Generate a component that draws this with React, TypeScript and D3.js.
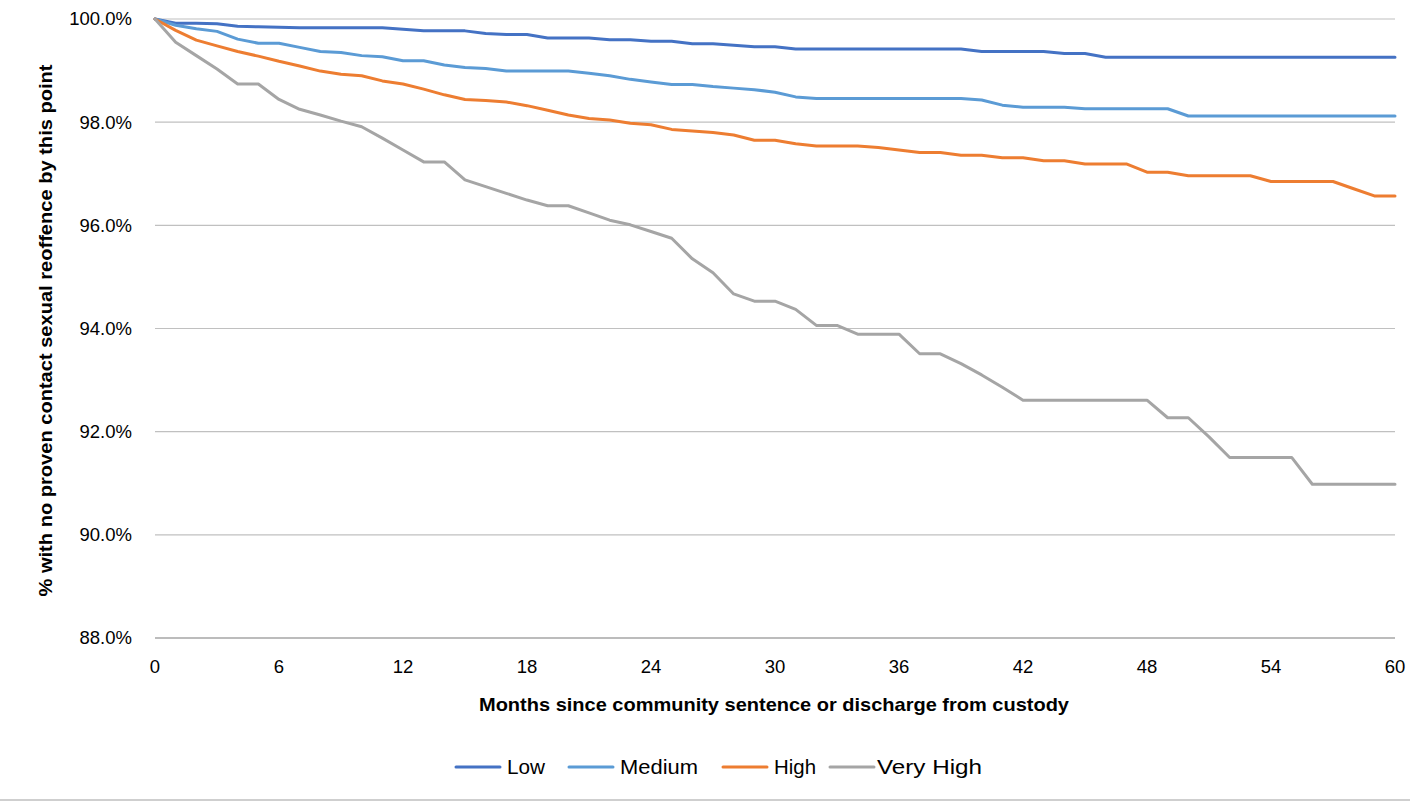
import React from "react";
import * as d3 from "d3";

const months: number[] = d3.range(0, 61);
const xTicks: number[] = [0, 6, 12, 18, 24, 30, 36, 42, 48, 54, 60];
const yTicks: number[] = [88, 90, 92, 94, 96, 98, 100];

const seriesNames: string[] = ["Low", "Medium", "High", "Very High"];
const seriesColors: string[] = ["#4472C4", "#5B9BD5", "#ED7D31", "#A5A5A5"];

const low: number[] = [
  100, 99.92, 99.92, 99.91, 99.86, 99.85, 99.84, 99.83, 99.83, 99.83, 99.83,
  99.83, 99.8, 99.77, 99.77, 99.77, 99.72, 99.7, 99.7, 99.63, 99.63,
  99.63, 99.6, 99.6, 99.57, 99.57, 99.52, 99.52, 99.49, 99.46, 99.46,
  99.42, 99.42, 99.42, 99.42, 99.42, 99.42, 99.42, 99.42, 99.42,
  99.37, 99.37, 99.37, 99.37, 99.33, 99.33,
  99.26, 99.26, 99.26, 99.26, 99.26, 99.26, 99.26, 99.26, 99.26, 99.26,
  99.26, 99.26, 99.26, 99.26, 99.26,
];

const medium: number[] = [
  100, 99.88, 99.81, 99.76, 99.61, 99.53, 99.53, 99.45, 99.37, 99.35, 99.29,
  99.27, 99.19, 99.19, 99.11, 99.06, 99.04, 98.99, 98.99, 98.99, 98.99,
  98.95, 98.9, 98.83, 98.78, 98.73, 98.73, 98.69, 98.66, 98.63, 98.58,
  98.49, 98.46, 98.46, 98.46, 98.46, 98.46, 98.46, 98.46, 98.46,
  98.43, 98.33, 98.29, 98.29, 98.29,
  98.26, 98.26, 98.26, 98.26, 98.26,
  98.12, 98.12, 98.12, 98.12, 98.12, 98.12, 98.12, 98.12, 98.12, 98.12, 98.12,
];

const high: number[] = [
  100, 99.78, 99.59, 99.48, 99.37, 99.28, 99.18, 99.09, 98.99, 98.93, 98.9,
  98.8, 98.74, 98.64, 98.53, 98.44, 98.42, 98.39, 98.32, 98.23, 98.14,
  98.07, 98.04, 97.98, 97.95, 97.86, 97.83, 97.8, 97.75, 97.65, 97.65,
  97.58, 97.54, 97.54, 97.54, 97.51, 97.46, 97.41, 97.41, 97.36, 97.36,
  97.31, 97.31, 97.25, 97.25, 97.19, 97.19, 97.19, 97.03, 97.03, 96.96,
  96.96, 96.96, 96.96, 96.85, 96.85, 96.85, 96.85, 96.71, 96.57, 96.57,
];

const veryHigh: number[] = [
  100, 99.55, 99.29, 99.03, 98.74, 98.74, 98.44, 98.25, 98.14, 98.02, 97.91,
  97.69, 97.46, 97.23, 97.23, 96.88, 96.75, 96.62, 96.49, 96.38, 96.38,
  96.24, 96.1, 96.01, 95.88, 95.75, 95.35, 95.08, 94.67, 94.53, 94.53,
  94.37, 94.06, 94.06, 93.89, 93.89, 93.89, 93.51, 93.51, 93.32, 93.1,
  92.86, 92.61, 92.61, 92.61, 92.61, 92.61, 92.61, 92.61, 92.27, 92.27,
  91.9, 91.5, 91.5, 91.5, 91.5, 90.98, 90.98, 90.98, 90.98, 90.98,
];

const seriesValues: number[][] = [low, medium, high, veryHigh];

const W = 1427;
const H = 803;
const FONT = "'Liberation Sans', Arial, sans-serif";

export default function App() {
  const x = d3.scaleLinear().domain([0, 60]).range([155, 1395]);
  const y = d3.scaleLinear().domain([88, 100]).range([638, 19]);
  const line = d3
    .line<number>()
    .x((_, i) => x(months[i]))
    .y((d) => y(d));

  const legendItems = [
    { lx: 456, tx: 507, tl: 38 },
    { lx: 569, tx: 620, tl: 78 },
    { lx: 723, tx: 774, tl: 42 },
    { lx: 830, tx: 877, tl: 105 },
  ];

  return (
    <svg
      width={W}
      height={H}
      style={{ position: "absolute", left: 0, top: 0, background: "#fff" }}
      fontFamily={FONT}
    >
      <rect x={0} y={0} width={W} height={H} fill="#fff" />
      {yTicks.map((t) => (
        <g key={"y" + t}>
          {t > 88 && (
            <line
              x1={x(0)}
              x2={x(60)}
              y1={y(t)}
              y2={y(t)}
              stroke="#c0c0c0"
              strokeWidth={1.2}
            />
          )}
          <text
            x={132}
            y={y(t)}
            dy="0.35em"
            textAnchor="end"
            fontSize={18.5}
            fill="#000"
          >
            {d3.format(".1f")(t) + "%"}
          </text>
        </g>
      ))}
      <line
        x1={x(0)}
        x2={x(60)}
        y1={y(88)}
        y2={y(88)}
        stroke="#a6a6a6"
        strokeWidth={1.5}
      />
      {xTicks.map((t) => (
        <text
          key={"x" + t}
          x={x(t)}
          y={667}
          dy="0.35em"
          textAnchor="middle"
          fontSize={18.5}
          fill="#000"
        >
          {t}
        </text>
      ))}
      {seriesValues.map((vals, si) => (
        <path
          key={seriesNames[si]}
          d={line(vals) || ""}
          fill="none"
          stroke={seriesColors[si]}
          strokeWidth={3}
          strokeLinejoin="round"
          strokeLinecap="round"
        />
      ))}
      <text
        x={774}
        y={704}
        dy="0.35em"
        textAnchor="middle"
        fontSize={19}
        fontWeight="bold"
        textLength={590}
        lengthAdjust="spacingAndGlyphs"
      >
        Months since community sentence or discharge from custody
      </text>
      <text
        transform={`translate(45,${(19 + 638) / 2 + 2}) rotate(-90)`}
        textAnchor="middle"
        dy="0.35em"
        fontSize={19}
        fontWeight="bold"
        textLength={532}
        lengthAdjust="spacingAndGlyphs"
      >
        % with no proven contact sexual reoffence by this point
      </text>
      {seriesNames.map((n, i) => (
        <g key={"leg" + n}>
          <line
            x1={legendItems[i].lx}
            x2={legendItems[i].lx + 44}
            y1={767}
            y2={767}
            stroke={seriesColors[i]}
            strokeWidth={3}
            strokeLinecap="round"
          />
          <text
            x={legendItems[i].tx}
            y={767}
            dy="0.35em"
            fontSize={20}
            textLength={legendItems[i].tl}
            lengthAdjust="spacingAndGlyphs"
          >
            {n}
          </text>
        </g>
      ))}
      <line x1={0} x2={1410} y1={800} y2={800} stroke="#bfbfbf" strokeWidth={1.5} />
    </svg>
  );
}
